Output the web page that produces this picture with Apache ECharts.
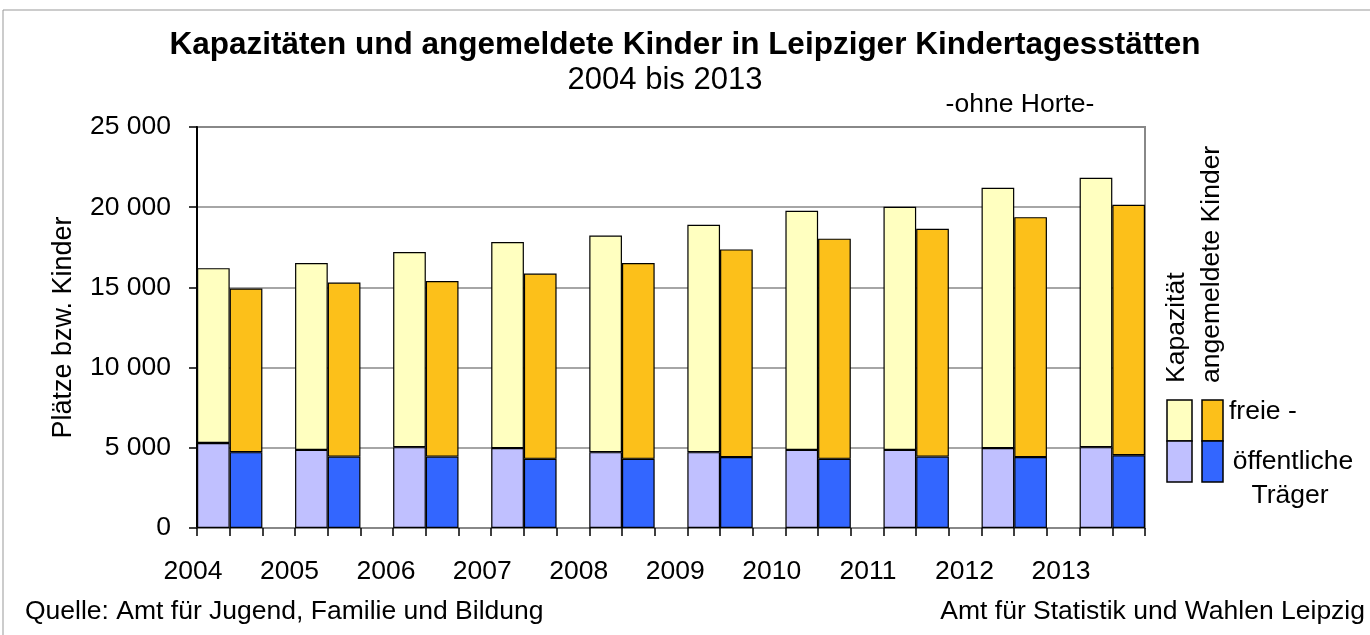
<!DOCTYPE html>
<html>
<head>
<meta charset="utf-8">
<script src="https://cdn.jsdelivr.net/npm/echarts@6/dist/echarts.min.js"></script>
<style>
  html, body { margin: 0; padding: 0; background: #fff; }
  #chart { width: 1370px; height: 635px; }
</style>
</head>
<body>
<div id="chart"></div>
<script>
var years = ['2004', '2005', '2006', '2007', '2008', '2009', '2010', '2011', '2012', '2013'];
// Kapazität (Plätze)
var kapOeffentlich = [5300, 4870, 5040, 4980, 4730, 4730, 4870, 4870, 4980, 5040];
var kapFrei = [10900, 11650, 12160, 12850, 13510, 14180, 14910, 15160, 16230, 16790];
// angemeldete Kinder
var kindOeffentlich = [4730, 4450, 4450, 4310, 4310, 4420, 4310, 4450, 4420, 4540];
var kindFrei = [10200, 10850, 10950, 11550, 12210, 12950, 13730, 14210, 14960, 15610];
var yTicks = [0, 5000, 10000, 15000, 20000, 25000];

var font = 'Liberation Sans, Arial, sans-serif';
var fs = 26.5;
var colYellow = '#FFFFC0', colPurple = '#C0C0FF', colOrange = '#FCC01A', colBlue = '#3366FF';

// three slots per year: Kapazität, Kinder, gap (no gap after the last year)
var slots = [];
var sKapOeff = [], sKapFrei = [], sKindOeff = [], sKindFrei = [];
years.forEach(function (y, i) {
    slots.push(y + ' K'); sKapOeff.push(kapOeffentlich[i]); sKapFrei.push(kapFrei[i]); sKindOeff.push('-'); sKindFrei.push('-');
    slots.push(y + ' A'); sKapOeff.push('-'); sKapFrei.push('-'); sKindOeff.push(kindOeffentlich[i]); sKindFrei.push(kindFrei[i]);
    if (i < years.length - 1) {
        slots.push(y + ' -'); sKapOeff.push('-'); sKapFrei.push('-'); sKindOeff.push('-'); sKindFrei.push('-');
    }
});

function barSeries(name, data, color) {
    return {
        name: name,
        type: 'bar',
        stack: 'all',
        barCategoryGap: '0%',
        data: data,
        itemStyle: { color: color, borderColor: '#000', borderWidth: 1.2 }
    };
}

function fmt(v) {
    return String(v).replace(/\B(?=(\d{3})+(?!\d))/g, ' ');
}

function txt(x, y, s, extra) {
    var style = { text: s, font: fs + 'px ' + font, fill: '#000', verticalAlign: 'middle' };
    for (var k in extra) style[k] = extra[k];
    return { type: 'text', x: x, y: y, style: style };
}

var option = {
    animation: false,
    textStyle: { fontFamily: font },
    grid: [
        { left: 197, right: 225, top: 127, bottom: 107, show: true, borderColor: '#888', borderWidth: 2 },
        { left: 193, width: 868, top: 127, bottom: 107 }
    ],
    xAxis: [
        {
            type: 'category',
            gridIndex: 0,
            data: slots,
            axisLine: { lineStyle: { color: '#888', width: 2 } },
            axisTick: { show: true, interval: 0, length: 8, lineStyle: { color: '#000', width: 1.5 } },
            axisLabel: { show: false }
        },
        {
            type: 'category',
            gridIndex: 1,
            data: years,
            boundaryGap: false,
            axisLine: { show: false },
            axisTick: { show: false },
            axisLabel: { margin: 30, fontSize: fs, color: '#000', fontFamily: font }
        }
    ],
    yAxis: [
        {
            type: 'value',
            gridIndex: 0,
            min: yTicks[0],
            max: yTicks[yTicks.length - 1],
            interval: 5000,
            name: 'Plätze bzw. Kinder',
            nameLocation: 'middle',
            nameGap: 120,
            nameTextStyle: { fontSize: 27, color: '#000', fontFamily: font },
            axisLine: { show: true, lineStyle: { color: '#000', width: 2 } },
            axisTick: { show: true, length: 8, lineStyle: { color: '#000', width: 1.5 } },
            axisLabel: { fontSize: fs, color: '#000', margin: 26, formatter: fmt },
            splitLine: { lineStyle: { color: '#888', width: 1.6 } }
        },
        { type: 'value', gridIndex: 1, show: false }
    ],
    series: [
        barSeries('öffentliche Träger (Kapazität)', sKapOeff, colPurple),
        barSeries('freie Träger (Kapazität)', sKapFrei, colYellow),
        barSeries('öffentliche Träger (Kinder)', sKindOeff, colBlue),
        barSeries('freie Träger (Kinder)', sKindFrei, colOrange)
    ],
    graphic: [
        { type: 'rect', shape: { x: 3, y: 10, width: 1380, height: 640 }, style: { fill: 'none', stroke: '#999', lineWidth: 1 }, silent: true },
        txt(685, 45, 'Kapazitäten und angemeldete Kinder in Leipziger Kindertagesstätten', { font: 'bold 31.5px ' + font, align: 'center' }),
        txt(665, 80, '2004 bis 2013', { font: '31px ' + font, align: 'center' }),
        txt(1020, 105, '-ohne Horte-', { align: 'center' }),
        // legend
        { type: 'text', x: 1177, y: 383, rotation: Math.PI / 2, style: { text: 'Kapazität', font: fs + 'px ' + font, fill: '#000', align: 'left', verticalAlign: 'middle' } },
        { type: 'text', x: 1212, y: 383, rotation: Math.PI / 2, style: { text: 'angemeldete Kinder', font: fs + 'px ' + font, fill: '#000', align: 'left', verticalAlign: 'middle' } },
        { type: 'rect', shape: { x: 1167, y: 400, width: 25, height: 41 }, style: { fill: colYellow, stroke: '#000', lineWidth: 1.5 } },
        { type: 'rect', shape: { x: 1167, y: 441, width: 25, height: 41 }, style: { fill: colPurple, stroke: '#000', lineWidth: 1.5 } },
        { type: 'rect', shape: { x: 1202, y: 400, width: 21, height: 41 }, style: { fill: colOrange, stroke: '#000', lineWidth: 1.5 } },
        { type: 'rect', shape: { x: 1202, y: 441, width: 21, height: 41 }, style: { fill: colBlue, stroke: '#000', lineWidth: 1.5 } },
        txt(1229, 412, 'freie -'),
        txt(1293, 462, 'öffentliche', { align: 'center' }),
        txt(1290, 496, 'Träger', { align: 'center' }),
        // footer
        txt(25, 612, 'Quelle: Amt für Jugend, Familie und Bildung'),
        txt(1365, 612, 'Amt für Statistik und Wahlen Leipzig', { align: 'right' })
    ]
};

var chart = echarts.init(document.getElementById('chart'));
chart.setOption(option);
</script>
</body>
</html>
